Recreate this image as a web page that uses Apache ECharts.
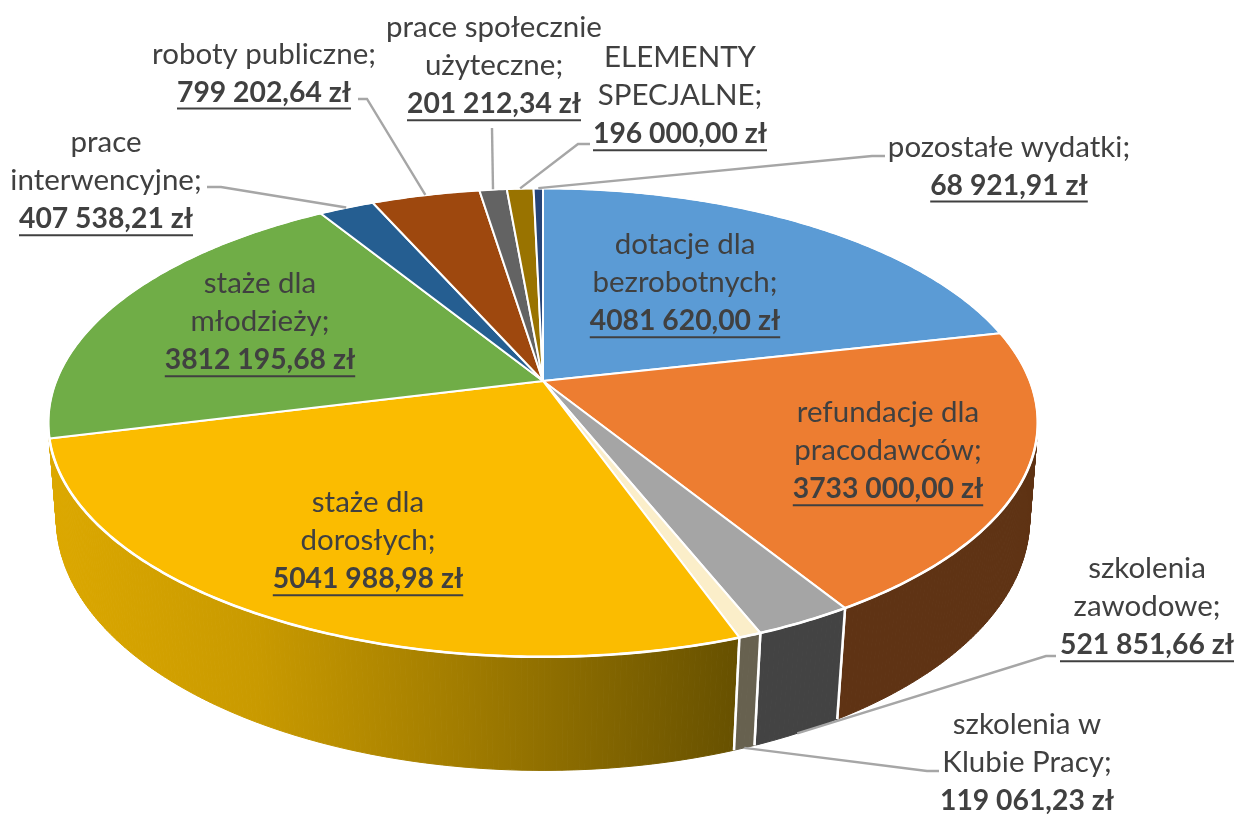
<!DOCTYPE html>
<html><head><meta charset="utf-8">
<style>html,body{margin:0;padding:0;background:#fff}#c{width:1237px;height:814px}</style>
<script src="https://cdn.jsdelivr.net/npm/echarts@6/dist/echarts.min.js"></script>
</head><body><div id="c"></div>
<script>
// ---- data
var categories = ["dotacje dla bezrobotnych","refundacje dla pracodawców","szkolenia zawodowe","szkolenia w Klubie Pracy","staże dla dorosłych","staże dla młodzieży","prace interwencyjne","roboty publiczne","prace społecznie użyteczne","ELEMENTY SPECJALNE","pozostałe wydatki"];
var values = [4081620.00,3733000.00,521851.66,119061.23,5041988.98,3812195.68,407538.21,799202.64,201212.34,196000.00,68921.91];
var labelLines = [["dotacje dla","bezrobotnych;"],["refundacje dla","pracodawców;"],["szkolenia","zawodowe;"],["szkolenia w","Klubie Pracy;"],["staże dla","dorosłych;"],["staże dla","młodzieży;"],["prace","interwencyjne;"],["roboty publiczne;"],["prace społecznie","użyteczne;"],["ELEMENTY","SPECJALNE;"],["pozostałe wydatki;"]];
// ---- styles
var topColors = ["#5B9BD5","#ED7D31","#A5A5A5","#FBEEC9","#FBBC00","#70AD47","#255E91","#9E480E","#636363","#997300","#264478"];
var wallColors = ["#375D80","#5F3314","#434343","#67614F",null,"#DCA800","#16385A","#5F2B08","#3B3B3B","#5C4500","#162948"];
var labelPos = [[685,244],[888,412],[1147,568],[1027,724],[368,502],[260,283],[106,142],[264,54],[494,27],[680,57],[1009,147]];
var LINE_H = 38.6;
// leader: elbow points from the label, then the rim it lands on
var leaders = {
  2:{pts:[[1056,656],[1046,656]],rim:'bottom'},
  3:{pts:[[939,771],[927,771]],rim:'bottom'},
  6:{pts:[[207,187],[221,187]],rim:'top'},
  7:{pts:[[358,99],[367,99]],rim:'top'},
  8:{pts:[[492,128]],rim:'top'},
  9:{pts:[[590,144],[578,144]],rim:'top'},
  10:{pts:[[885,156],[872,156]],rim:'top'}
};
// ---- perspective discs (top face and bottom face)
var DISC = {
  top:{cx:543,cy:381,a:487,b:227,k:0.177},
  bottom:{cx:543,cy:477,a:480,b:245,k:0.165}
};
var total = values.reduce(function(a,b){return a+b;},0);
function startAngle(i){var s=0;for(var j=0;j<i;j++)s+=values[j];return s/total*Math.PI*2;}
function proj(t,rim){
  var d=DISC[rim],u=Math.sin(t),v=Math.cos(t),w=1+d.k*v;
  return [d.cx+d.a*u/w, d.cy-d.b*v/w];
}
function arc(t1,t2,rim){
  var n=Math.max(2,Math.ceil((t2-t1)/0.01)),p=[];
  for(var i=0;i<=n;i++)p.push(proj(t1+(t2-t1)*i/n,rim));
  return p;
}
function fmt(x){
  var s=x.toFixed(2).split('.');
  return s[0].replace(/(\d{3})$/,' $1')+','+s[1]+' zł';
}
var FONT='29.5px Lato, "Noto Sans", sans-serif', FONTB='bold 28.3px Lato, "Noto Sans", sans-serif';
var mctx=document.createElement('canvas').getContext('2d');
function tw(t,f){mctx.font=f;return mctx.measureText(t).width;}
var yellowWall=new echarts.graphic.LinearGradient(50,0,740,0,[
  {offset:0,color:'#DCA800'},{offset:0.3,color:'#C99A00'},{offset:0.6,color:'#A17C00'},{offset:1,color:'#665000'}],true);
var seriesData=values.map(function(v,i){return {name:categories[i],value:v};});

function wallItem(params,api){
  var i=params.dataIndex,t1=startAngle(i),t2=t1+api.value(0)/total*Math.PI*2;
  var a=arc(t1,t2,'top'),b=arc(t1,t2,'bottom'),ch=[];
  var z=Math.round(200-100*Math.cos((t1+t2)/2)),fill=wallColors[i]||yellowWall;
  for(var k=0;k<a.length-1;k++){
    ch.push({type:'polygon',z2:z,shape:{points:[a[k],a[k+1],b[k+1],b[k]]},style:{fill:fill,stroke:fill,lineWidth:1}});
  }
  // white seams only where a seam faces the viewer
  if(Math.cos(t1)<-0.5) ch.push({type:'polyline',z2:z+1,shape:{points:[a[0],b[0]]},style:{fill:null,stroke:'#fff',lineWidth:2.5}});
  if(Math.cos(t2)<-0.5) ch.push({type:'polyline',z2:z+1,shape:{points:[a[a.length-1],b[b.length-1]]},style:{fill:null,stroke:'#fff',lineWidth:2.5}});
  return {type:'group',children:ch};
}
function topItem(params,api){
  var i=params.dataIndex,t1=startAngle(i),t2=t1+api.value(0)/total*Math.PI*2;
  var rim=arc(t1,t2,'top');
  var pts=[[DISC.top.cx,DISC.top.cy]].concat(rim);
  return {type:'group',children:[
    {type:'polygon',z2:1,shape:{points:pts},style:{fill:topColors[i],stroke:'#fff',lineWidth:2,lineJoin:'round'}},
    {type:'polyline',z2:2,shape:{points:rim},style:{fill:null,stroke:'#fff',lineWidth:2.6}}
  ]};
}
function labelItem(params,api){
  var i=params.dataIndex,val=api.value(0),t1=startAngle(i),mid=t1+val/total*Math.PI;
  var ch=[],lines=labelLines[i],p=labelPos[i];
  var L=leaders[i];
  if(L){
    ch.push({type:'polyline',shape:{points:L.pts.concat([proj(mid,L.rim)])},style:{fill:null,stroke:'#A6A6A6',lineWidth:2.4}});
  }
  lines.forEach(function(t,k){
    ch.push({type:'text',style:{text:t,x:p[0],y:p[1]+k*LINE_H,font:FONT,fill:'#404040',align:'center',verticalAlign:'middle'}});
  });
  var vy=p[1]+lines.length*LINE_H, txt=fmt(val), w=tw(txt,FONTB);
  ch.push({type:'text',style:{text:txt,x:p[0],y:vy,font:FONTB,fill:'#404040',align:'center',verticalAlign:'middle'}});
  ch.push({type:'rect',shape:{x:p[0]-w/2,y:vy+15,width:w,height:2},style:{fill:'#404040'}});
  return {type:'group',children:ch};
}
var chart=echarts.init(document.getElementById('c'),null,{renderer:'canvas'});
chart.setOption({
  animation:false,
  backgroundColor:'#fff',
  series:[
    {type:'custom',coordinateSystem:'none',silent:true,z:1,data:seriesData,renderItem:wallItem},
    {type:'custom',coordinateSystem:'none',silent:true,z:2,data:seriesData,renderItem:topItem},
    {type:'custom',coordinateSystem:'none',silent:true,z:3,data:seriesData,renderItem:labelItem}
  ]
});
</script></body></html>
